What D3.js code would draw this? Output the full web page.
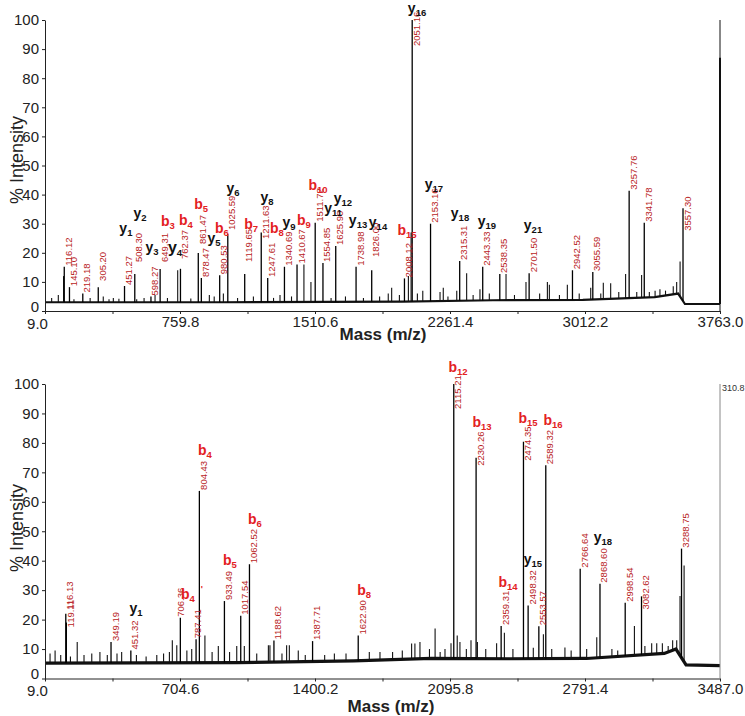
<!DOCTYPE html>
<html><head><meta charset="utf-8">
<script src="https://cdn.jsdelivr.net/npm/d3@7"></script>
<style>
body{margin:0;background:#fff}
svg{display:block;font-family:"Liberation Sans",Arial,Helvetica,sans-serif}
</style>
</head><body>
<svg id="chart" width="745" height="716"></svg>
<script>
// ================= TOP SPECTRUM DATA =================
const topMassTicks = [9.0, 759.8, 1510.6, 2261.4, 3012.2, 3763.0];
const topIntensityTicks = [0,10,20,30,40,50,60,70,80,90,100];
const topPeakMass = [116.12,145.10,219.18,305.20,451.27,508.30,598.27,649.31,762.37,861.47,878.47,980.53,1025.59,1119.65,1211.63,1247.61,1340.69,1410.67,1511.72,1554.85,1625.90,1738.98,1826.00,2008.12,2051.16,2153.16,2315.31,2443.33,2538.35,2701.50,2942.52,3055.59,3257.76,3341.78,3557.30];
const topPeakInt  = [15.2,8.2,6,8.2,8.6,12.7,5,14.4,14.5,19.9,11.3,12.3,26.5,12.7,27,11.3,15.2,16,30.3,16.5,22.3,15.2,14,11.2,100,30,17.2,15.2,12.7,13,14,13.4,41.3,30.3,35.3];
const topPeakLabel = ["116.12","145.10","219.18","305.20","451.27","508.30","598.27","649.31","762.37","861.47","878.47","980.53","1025.59","1119.65","1211.63","1247.61","1340.69","1410.67","1511.72","1554.85","1625.90","1738.98","1826.00","2008.12","2051.16","2153.16","2315.31","2443.33","2538.35","2701.50","2942.52","3055.59","3257.76","3341.78","3557.30"];
const topMinorMass = [46,83,112,170,260,333,365,389,420,519,560,621,690,747,820,923,950,1001,1080,1168,1280,1316,1380,1449,1488,1600,1680,1780,1870,1918,1937,1980,2030,2045,2080,2110,2206,2224,2250,2299,2354,2390,2428,2480,2573,2620,2684,2760,2803,2814,2870,2914,2980,3044,3100,3114,3155,3200,3238,3300,3327,3370,3402,3429,3460,3503,3522,3541,3763];
const topMinorInt  = [4.5,5.5,12,4,4.5,5,4,4.5,4.2,4,4.5,5.5,4.5,14,4.3,5.5,5,6,4.5,5,4.5,5.5,5,16,10,4.5,5,4.5,5,6,8,5.5,12,27,6,7,6.5,8,5,7,13,5.5,7.5,6,12.7,5.5,10,6,10,9,5.5,9,6,8,6,9.7,9.5,6.5,12.7,6.5,12.4,6.5,7,7.5,7,8.5,10,17,87];
const topBaseMass = [9,1000,2000,2500,3000,3400,3530,3568,3763];
const topBaseInt  = [3.0,3.0,3.2,3.7,3.8,4.8,6.0,2.4,2.4];
const topIonLetter = ["y","y","b","y","y","b","b","y","b","y","b","y","b","y","b","b","y","y","y","y","b","y","y","y","y","y"];
const topIonSub    = ["1","2","3","3","4","4","5","5","6","6","7","8","8","9","9","10","11","12","13","14","15","16","17","18","19","21"];
const topIonMass   = [459,537,693,604,732,793,877,949,993,1055,1155,1244,1299,1366,1449,1527,1611,1666,1750,1861,2022,2078,2172,2317,2467,2723];
const topIonInt    = [28.5,33.7,30.9,22,21.6,31.3,36.8,25,28.5,42.3,29.9,39.2,28.5,30.6,31.3,43.3,35.4,38.8,31.3,30.6,27.8,104.0,43.6,33.7,30.9,29.6];

// ================= BOTTOM SPECTRUM DATA =================
const botMassTicks = [9.0, 704.6, 1400.2, 2095.8, 2791.4, 3487.0];
const botIntensityTicks = [0,10,20,30,40,50,60,70,80,90,100];
const botRightLabel = "310.8";
const botPeakMass = [116.13,119.11,349.19,451.32,706.36,787.41,804.43,933.49,1017.54,1062.52,1188.62,1387.71,1622.90,2115.21,2230.26,2359.31,2474.35,2498.32,2553.57,2589.32,2766.64,2868.60,2998.54,3082.62,3288.75];
const botPeakInt  = [22,19,12.4,9.5,20.6,13.3,63.7,26.3,21.3,38.8,12.9,12.7,14.6,100,75,17.8,80.4,24.8,17.7,72.4,37.3,32.2,25.7,27.9,44.1];
const botPeakLabel = ["116.13","119.11","349.19","451.32","706.36","787.41","804.43","933.49","1017.54","1062.52","1188.62","1387.71","1622.90","2115.21","2230.26","2359.31","2474.35","2498.32","2553.57","2589.32","2766.64","2868.60","2998.54","3082.62","3288.75"];
const botMinorMass = [35,61,90,140,175,210,250,292,330,380,404,480,530,585,620,650,665,688,740,765,833,870,902,960,997,1036,1100,1160,1168,1230,1254,1268,1314,1350,1450,1500,1560,1680,1735,1800,1850,1898,1915,1941,1990,2019,2045,2070,2101,2133,2147,2180,2204,2237,2280,2336,2376,2420,2525,2577,2620,2688,2720,2800,2852,2930,2960,3046,3100,3135,3161,3190,3220,3243,3264,3281,3302];
const botMinorInt  = [8.5,9.5,8,7.5,12.4,8,8.5,9,8,8.5,9,8,7.5,8,8.5,9,13,11.3,9.5,10,14.6,9,11,9,11,11,8.5,11.3,11.3,8.5,11.3,11.3,9.5,8,8,8.5,8.5,9,9,9,9.5,11.9,11.9,12.4,10,17,9,10,12,14.6,12.4,10,13,12.4,10,12,15.5,10,10.4,15,10,10.5,9.5,10,14,10,9.5,17.8,11,12,12,12,11,13,13,28,38.4];
const botBaseMass = [9,1000,1600,2000,2400,2800,3200,3260,3312,3487];
const botBaseInt  = [5.2,5.4,6.0,6.8,6.7,6.8,8.5,10,4.6,4.4];
const botIonLetter = ["y","b","b","b","b","b","b","b","b","b","y","b","y"];
const botIonSub    = ["1","4","4","5","6","8","12","13","14","15","15","16","18"];
const botIonMark   = ["","'","","","","","","","","","","",""];
const botIonMass   = [478,766,833,962,1091,1653,2137,2261,2395,2498,2523,2627,2884];
const botIonInt    = [24.1,28.6,77.6,40.1,54,29.9,105.8,87,32.7,88.4,40.5,87.8,48];

// ================= LAYOUT (not data) =================
const topLabelStart = [null,null,null,10,null,16.5,null,16.5,17.5,22.7,null,null,27.5,16.5,24.4,null,null,null,null,null,null,null,18.2,null,90.7,null,null,null,null,null,null,null,null,null,27.2];
const botLabelStart = [23,17,null,null,null,null,null,null,null,null,null,null,null,91.2,71.9,null,73.6,null,null,null,null,null,null,23.1,null];
const botLabelDx    = [0,0,0,0,-4,-3,0,0,0,0,0,0,0,0,0,0,0,0,0,0,0,0,0,0,0];

const NUM_RED = "#b81c24";
const ION_RED = "#e3211f";

const svg = d3.select("#chart");

function drawPanel(o) {
  const g = svg.append("g");
  const x = d3.scaleLinear().domain([o.massTicks[0], o.massTicks[o.massTicks.length-1]]).range([45, 720]);
  const y = d3.scaleLinear().domain([0, 100]).range([o.y0, o.y100]);
  const base = d3.scaleLinear().domain(o.baseMass).range(o.baseInt).clamp(true);

  // baseline
  g.append("path")
    .datum(o.baseMass.map((m,i)=>[m,o.baseInt[i]]))
    .attr("d", d3.line().x(d=>x(d[0])).y(d=>y(d[1])))
    .attr("fill","none").attr("stroke","#111").attr("stroke-width", o.baseWidth);

  // minor peaks
  g.selectAll(".minor").data(o.minorMass.map((m,i)=>({m, v:o.minorInt[i]}))).enter()
    .append("line")
    .attr("x1", d=>x(d.m)).attr("x2", d=>x(d.m))
    .attr("y1", d=>y(base(d.m))).attr("y2", d=>y(d.v))
    .attr("stroke","#111").attr("stroke-width", d=> d.v > 50 ? 2 : 1.1);

  // labelled peaks
  const peaks = o.peakMass.map((m,i)=>({m, v:o.peakInt[i], t:o.peakLabel[i], s:o.labelStart[i], dx:(o.labelDx?o.labelDx[i]:0)}));
  g.selectAll(".pk").data(peaks).enter()
    .append("line")
    .attr("x1", d=>x(d.m)).attr("x2", d=>x(d.m))
    .attr("y1", d=>y(base(d.m))).attr("y2", d=>y(d.v))
    .attr("stroke","#000").attr("stroke-width", 1.3);

  g.selectAll(".pl").data(peaks).enter()
    .append("text")
    .attr("transform", d=>`translate(${x(d.m)+4+d.dx},${y(d.s==null ? d.v : d.s)-1}) rotate(-90)`)
    .attr("dominant-baseline","central")
    .attr("font-size", 9.5)
    .attr("fill", NUM_RED)
    .text(d=>d.t);

  // ion labels
  const ions = o.ionLetter.map((l,i)=>({l, s:o.ionSub[i], m:o.ionMass[i], v:o.ionInt[i], k:(o.ionMark?o.ionMark[i]:"")}));
  const it = g.selectAll(".ion").data(ions).enter()
    .append("text")
    .attr("x", d=>x(d.m)).attr("y", d=>y(d.v)+5)
    .attr("text-anchor","middle")
    .attr("font-weight","bold")
    .attr("fill", d=> d.l==="b" ? ION_RED : "#111")
    .attr("font-size", d=> (o.bigIon && d.l+d.s===o.bigIon) ? 16 : 14);
  it.append("tspan").text(d=>d.l);
  it.append("tspan").attr("font-size", 9.5).attr("dy", 3).text(d=>d.s);
  it.filter(d=>d.k).append("tspan").attr("font-size", 9).attr("dx", 6).attr("dy", -10).text(d=>d.k);

  // axes
  const major = o.massTicks;
  const minor = d3.pairs(major).map(p=>(p[0]+p[1])/2);
  const xAxis = d3.axisBottom(x).tickValues(major.concat(minor)).tickSize(3).tickSizeOuter(0).tickPadding(2)
    .tickFormat(d=> major.includes(d) ? d.toFixed(1) : "");
  const xg = g.append("g").attr("transform",`translate(0,${o.y0})`).call(xAxis);
  xg.selectAll("text").attr("font-size", 15).attr("fill","#222").attr("font-family","Liberation Sans, Arial, sans-serif");
  xg.selectAll(".tick text").filter(d=>d===major[0]).attr("dx", -8).attr("y", 7);
  xg.selectAll("line,path").attr("stroke","#222");

  const yAxis = d3.axisLeft(y).tickValues(o.intensityTicks).tickSize(3).tickSizeOuter(0).tickPadding(3);
  const yg = g.append("g").attr("transform","translate(45,0)").call(yAxis);
  yg.selectAll("text").attr("font-size", 15).attr("fill","#222").attr("font-family","Liberation Sans, Arial, sans-serif");
  yg.selectAll(".tick text").filter(d=>d===0).attr("y", -4.5);
  yg.selectAll("line,path").attr("stroke","#222");

  // right axis line
  g.append("line").attr("x1",720).attr("x2",720).attr("y1",y(100)).attr("y2",o.y0)
    .attr("stroke", o.rightColor).attr("stroke-width",1);
  if (o.rightLabel) {
    g.append("text").attr("x",722).attr("y",y(100)+7).attr("font-size",9).attr("fill","#333").text(o.rightLabel);
  }

  // axis titles
  g.append("text").attr("transform",`translate(17,${o.yTitleY}) rotate(-90)`)
    .attr("text-anchor","middle").attr("dominant-baseline","central")
    .attr("font-size",18).attr("fill","#222").text("% Intensity");
  g.append("text").attr("x",o.xTitleX).attr("y",o.xTitleY)
    .attr("text-anchor","middle").attr("dominant-baseline","central")
    .attr("font-size",17).attr("font-weight","bold").attr("fill","#222").text("Mass (m/z)");
}

drawPanel({
  massTicks: topMassTicks, intensityTicks: topIntensityTicks,
  peakMass: topPeakMass, peakInt: topPeakInt, peakLabel: topPeakLabel, labelStart: topLabelStart,
  minorMass: topMinorMass, minorInt: topMinorInt,
  baseMass: topBaseMass, baseInt: topBaseInt,
  ionLetter: topIonLetter, ionSub: topIonSub, ionMass: topIonMass, ionInt: topIonInt,
  bigIon: "y4",
  y0: 311, y100: 20, baseWidth: 2.2, rightColor: "#111",
  yTitleY: 160, xTitleX: 383, xTitleY: 334
});

drawPanel({
  massTicks: botMassTicks, intensityTicks: botIntensityTicks,
  peakMass: botPeakMass, peakInt: botPeakInt, peakLabel: botPeakLabel, labelStart: botLabelStart, labelDx: botLabelDx,
  minorMass: botMinorMass, minorInt: botMinorInt,
  baseMass: botBaseMass, baseInt: botBaseInt,
  ionLetter: botIonLetter, ionSub: botIonSub, ionMark: botIonMark, ionMass: botIonMass, ionInt: botIonInt,
  y0: 678.5, y100: 384, baseWidth: 3.2, rightColor: "#888", rightLabel: botRightLabel,
  yTitleY: 528, xTitleX: 391, xTitleY: 706
});
</script>
</body></html>
